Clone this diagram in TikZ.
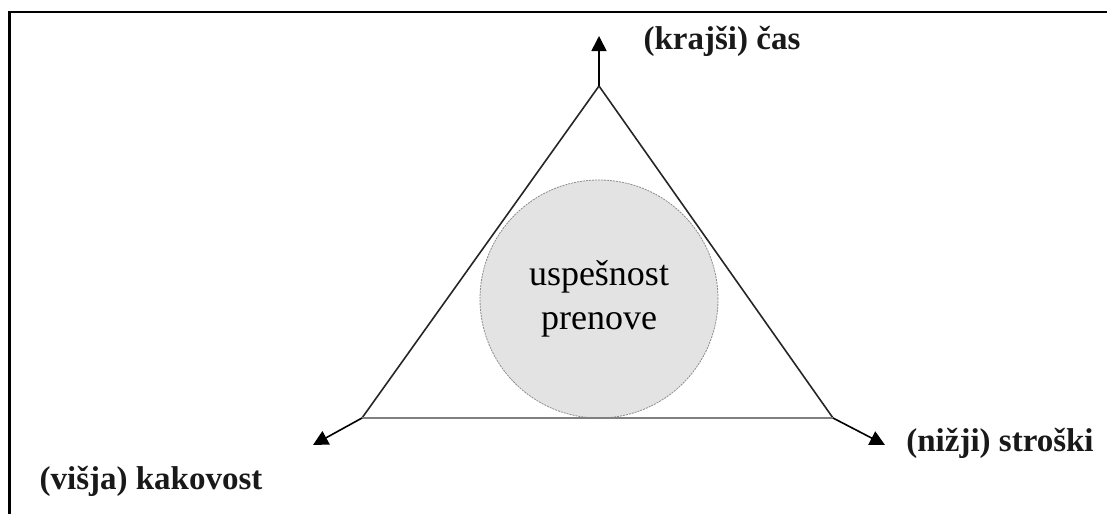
\documentclass[tikz,border=0pt]{standalone}
\usepackage{fontspec}
\setmainfont{Liberation Serif}
\usetikzlibrary{positioning,calc,arrows.meta}
\tikzstyle{side} = [line width=1.6pt, draw=black!85]
\tikzstyle{base} = [line width=2.6pt, draw=black!50]
\tikzstyle{arrow} = [line width=1.6pt, -{Triangle[length=15pt,width=15pt]}]
\tikzstyle{goal} = [font=\bfseries\fontsize{33}{36}\selectfont, text=black!90, inner sep=0pt]
\tikzstyle{success} = [circle, minimum size=238pt, inner sep=0pt,
fill=black!11,
draw=black!45,
line width=0.8pt,
dash pattern=on 2pt off 1pt,
align=center,
font=\fontsize{36}{44}\selectfont]

\begin{document}
\begin{tikzpicture}[x=1pt,y=-1pt]
\useasboundingbox (0,0) rectangle (1107,514);

% Frame
\draw [line width=2pt] (9,514) -- (9,12) -- (1107,12);
\draw [line width=3pt] (9,514) -- (9,12);

% Corners of the triangle
\coordinate (Top) at (599,86);
\coordinate (Left) at (362,418);
\coordinate (Right) at (833,418);

% Arrow ends
\coordinate (Top_End) at (599,36);
\coordinate (Left_End) at (313,445);
\coordinate (Right_End) at (885,445);

% Circle
\node (Success) [success] at (599,299) {uspešnost\\prenove};

% Triangle
\draw [side] (Left) -- (Top) -- (Right);
\draw [base] (Left) -- (Right);

% Arrows out of the corners
\draw [arrow] (Top) -- (Top_End);
\draw [arrow] (Left) -- (Left_End);
\draw [arrow] (Right) -- (Right_End);

% Labels
\node (Time) [goal] at (722,41) {(krajši) čas};
\node (Cost) [goal] at (1000,443) {(nižji) stroški};
\node (Quality) [goal] at (151,481) {(višja) kakovost};

\end{tikzpicture}
\end{document}
